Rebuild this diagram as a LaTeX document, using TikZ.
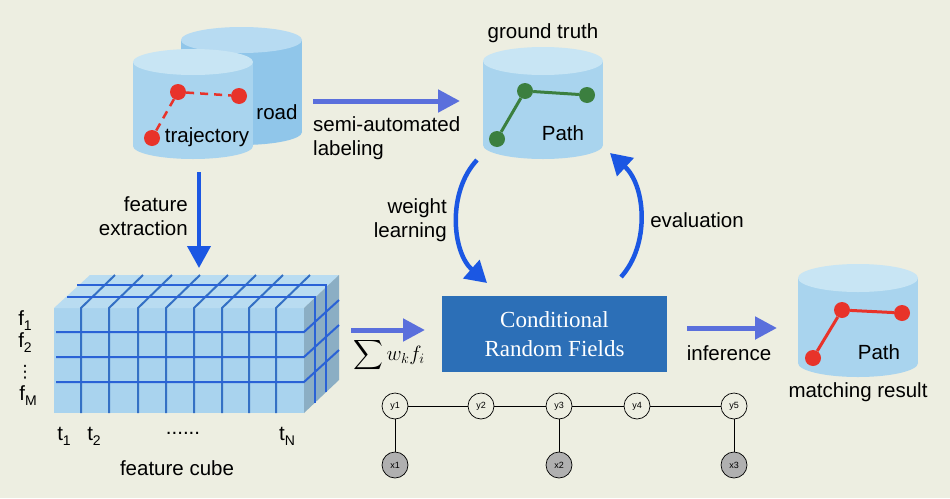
\documentclass[tikz,border=0pt]{standalone}
\usepackage{exscale}
\usepackage{fontspec}
\setmainfont{Liberation Sans}
\newfontfamily\crffont{Liberation Serif}
\newfontfamily\symfont{DejaVu Sans}
\usetikzlibrary{arrows.meta}
\definecolor{bg}{HTML}{EDEEE1}
\definecolor{cylbody}{HTML}{A9D4EE}
\definecolor{cyltop}{HTML}{C8E5F4}
\definecolor{cylback}{HTML}{90C6EA}
\definecolor{cylbacktop}{HTML}{B7DBF2}
\definecolor{dotred}{HTML}{E8332A}
\definecolor{dotgreen}{HTML}{3B7F3F}
\definecolor{lav}{HTML}{5A6FDC}
\definecolor{bright}{HTML}{1B57E3}
\definecolor{crfblue}{HTML}{2C6FB7}
\definecolor{cubefront}{HTML}{A9D3EE}
\definecolor{cubetop}{HTML}{B9DCF1}
\definecolor{cuberight}{HTML}{8BAEC4}
\definecolor{gridblue}{HTML}{2A62D6}
\definecolor{gridv}{HTML}{3470C4}
\definecolor{xgray}{HTML}{B0B0B0}
\newcommand\mysub[1]{\raisebox{-0.45ex}{\fontsize{14}{14}\selectfont #1}}
\begin{document}
\begin{tikzpicture}[x=1pt,y=-1pt,
  every node/.style={inner sep=0pt, font=\fontsize{20.5}{24}\selectfont},
  lavarrow/.style={draw=lav, line width=5pt, -{Triangle[length=22pt,width=22pt]}},
  brightarrow/.style={draw=bright, line width=4pt, -{Triangle[length=22pt,width=23pt]}},
  curvearrow/.style={draw=bright, line width=4.5pt, -{Triangle[length=21pt,width=24pt]}},
  reddot/.style={circle, fill=dotred, minimum size=16pt},
  greendot/.style={circle, fill=dotgreen, minimum size=16pt},
  chainy/.style={circle, draw=black, line width=0.7pt, fill=bg, minimum size=26pt, font=\fontsize{9}{10}\selectfont},
  chainx/.style={circle, draw=black, line width=0.7pt, fill=xgray, minimum size=26pt, font=\fontsize{9}{10}\selectfont},
  chainline/.style={draw=black, line width=0.7pt},
  gridh/.style={draw=gridblue, line width=2pt},
  gridvv/.style={draw=gridv, line width=2pt}
]
\useasboundingbox (0,0) rectangle (950,498);
\fill[bg] (0,0) rectangle (950,498);

% ---------- road / trajectory cylinders ----------
\fill[cylback] (181,40) rectangle (302,132);
\fill[cylback] (241.5,132) ellipse (60.5 and 13);
\fill[cylbacktop] (241.5,40) ellipse (60.5 and 13);
\fill[cylbody] (133,62) rectangle (253,146);
\fill[cylbody] (193,146) ellipse (60 and 13);
\fill[cyltop] (193,62) ellipse (60 and 13);
\node[reddot] (r1) at (178,92) {};
\node[reddot] (r2) at (239,96) {};
\node[reddot] (r3) at (152,138) {};
\draw[dotred, line width=2.5pt, dash pattern=on 8pt off 6pt] (r1) -- (r2);
\draw[dotred, line width=2.5pt, dash pattern=on 8pt off 6pt] (r1) -- (r3);
\node (road) at (277,112) {road};
\node (traj) at (207,137) {trajectory};

% ---------- ground truth cylinder ----------
\fill[cylbody] (483,61) rectangle (603,145);
\fill[cylbody] (543,145) ellipse (60 and 14);
\fill[cyltop] (543,61) ellipse (60 and 14);
\node[greendot] (g1) at (525,91) {};
\node[greendot] (g2) at (587,95) {};
\node[greendot] (g3) at (497,139) {};
\draw[dotgreen, line width=3pt] (g3) -- (g1) -- (g2);
\node (gpath) at (563,133) {Path};
\node (gt) at (543,33) {ground truth};

% ---------- matching result cylinder ----------
\fill[cylbody] (798,278) rectangle (918,363);
\fill[cylbody] (858,363) ellipse (60 and 14);
\fill[cyltop] (858,278) ellipse (60 and 14);
\node[reddot] (m1) at (842,310) {};
\node[reddot] (m2) at (902,313) {};
\node[reddot] (m3) at (813,358) {};
\draw[dotred, line width=3pt] (m3) -- (m1) -- (m2);
\node (mpath) at (879,352) {Path};
\node (mr) at (858,392) {matching result};

% ---------- feature cube ----------
\fill[cubefront] (54,308) rectangle (304,413);
\fill[cubetop] (54,308) -- (90,275) -- (339,275) -- (304,308) -- cycle;
\fill[cuberight] (304,308) -- (339,275) -- (339,380) -- (304,413) -- cycle;
\foreach \x in {81,109,138,166,194,222,249,276} {
  \draw[gridvv] (\x,413) -- (\x,308) -- ++(34,-33);
}
\foreach \y in {332,357,382} {
  \draw[gridh] (56,\y) -- (304,\y) -- ++(35,-32);
}
\draw[gridh] (77,285) -- (326,285) -- (326,392);
\draw[gridh] (67,297) -- (315,297) -- (315,403);
\node (f1) at (25,321) {f\mysub{1}};
\node (f2) at (25,343) {f\mysub{2}};
\node[font=\symfont\fontsize{17}{17}\selectfont] (fd) at (25,372) {⋮};
\node (fM) at (28,396) {f\mysub{M}};
\node (t1) at (64,436) {t\mysub{1}};
\node (t2) at (94,436) {t\mysub{2}};
\node (tdots) at (183,433) {......};
\node (tN) at (287,436) {t\mysub{N}};
\node (fc) at (177,468) {feature cube};

% ---------- CRF box ----------
\node[fill=crfblue, minimum width=225pt, minimum height=76pt, text=white,
      align=center, font=\crffont\fontsize{23}{29}\selectfont] (crf) at (554.5,334) {Conditional\\Random Fields};

% ---------- arrows ----------
\coordinate (semiS) at (313,101);
\coordinate (semiE) at (460,101);
\draw[lavarrow] (semiS) -- (semiE);
\node[anchor=west, align=left] (semil) at (313,138) {semi-automated\\labeling};

\coordinate (feS) at (199,172);
\coordinate (feE) at (199,268);
\draw[brightarrow] (feS) -- (feE);
\node[anchor=east, align=right] (fel) at (188,216) {feature\\extraction};

\coordinate (sumS) at (351,330);
\coordinate (sumE) at (425,330);
\draw[lavarrow] (sumS) -- (sumE);
\node[anchor=base, font=\fontsize{20}{24}\selectfont] (suml) at (389,360) {$\displaystyle\sum w_k f_i$};

\coordinate (infS) at (687,328);
\coordinate (infE) at (777,328);
\draw[lavarrow] (infS) -- (infE);
\node (infl) at (729,353) {inference};

\coordinate (wlS) at (477,160);
\coordinate (wlE) at (487,283);
\draw[curvearrow] (wlS) .. controls (447,192) and (452,252) .. (wlE);
\node[anchor=east, align=right] (wll) at (447,220) {weight\\learning};

\coordinate (evS) at (621,277);
\coordinate (evE) at (610,153);
\draw[curvearrow] (evS) .. controls (650,245) and (646,186) .. (evE);
\node (evl) at (697,220) {evaluation};

% ---------- chain graph ----------
\node[chainy] (y1) at (395,406) {y1};
\node[chainy] (y2) at (481,406) {y2};
\node[chainy] (y3) at (559,406) {y3};
\node[chainy] (y4) at (637,406) {y4};
\node[chainy] (y5) at (734,406) {y5};
\node[chainx] (x1) at (395,465) {x1};
\node[chainx] (x2) at (559,465) {x2};
\node[chainx] (x3) at (734,465) {x3};
\draw[chainline] (y1) -- (y2) -- (y3) -- (y4) -- (y5);
\draw[chainline] (y1) -- (x1);
\draw[chainline] (y3) -- (x2);
\draw[chainline] (y5) -- (x3);
\end{tikzpicture}
\end{document}
